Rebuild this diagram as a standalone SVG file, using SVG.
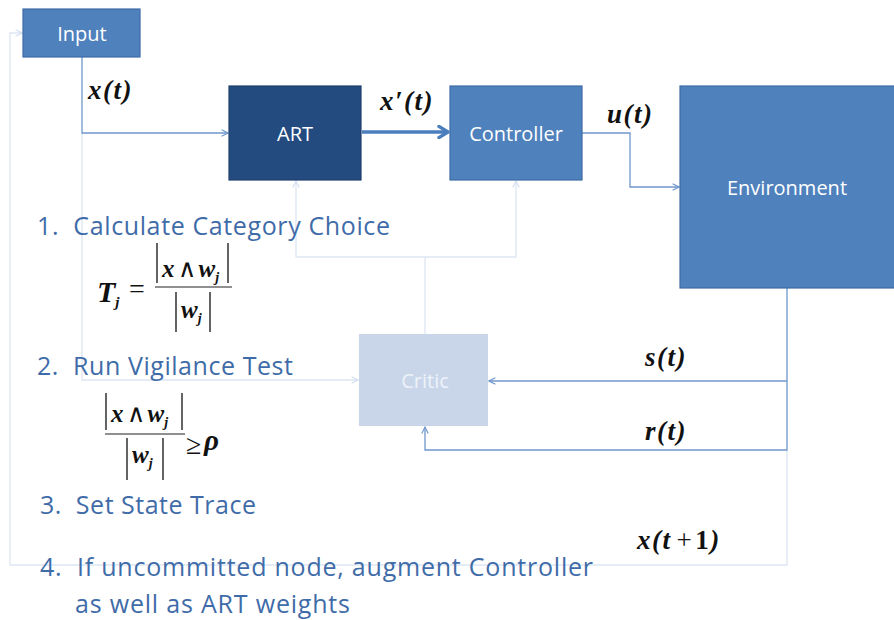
<svg xmlns="http://www.w3.org/2000/svg" width="894" height="620" viewBox="0 0 894 620">
  <style>
    .box { stroke-width: 1.2; }
    .mid { fill: #4f81bd; stroke: #3e6ca6; }
    .dark { fill: #234b80; stroke: #1e3f6d; }
    .pale { fill: #c9d6ea; stroke: none; }
    .lbl { font-family: "Open Sans", "Liberation Sans", sans-serif; font-size: 20px; fill: #ffffff; text-anchor: middle; dominant-baseline: central; }
    .lbl-pale { fill: #eef2f9; }
    .wire { fill: none; stroke: #6f97cc; stroke-width: 1.3; }
    .faint { fill: none; stroke: #dde6f2; stroke-width: 1.3; }
    .thick { fill: none; stroke: #4a7ebd; stroke-width: 3.5; }
    .math { font-family: "Liberation Serif", "Times New Roman", serif; font-weight: bold; font-style: italic; fill: #111; }
    .sig { font-size: 27px; letter-spacing: 1.5px; }
    .up { font-style: normal; }
    .op { font-style: normal; font-weight: normal; }
    .step { font-family: "Open Sans", "Noto Sans", sans-serif; font-size: 25px; fill: #3f6ca8; white-space: pre; }
    .bar { stroke: #222; stroke-width: 1.4; }
    .frac { stroke: #222; stroke-width: 1.2; }
  </style>
  <defs>
    <marker id="open" viewBox="0 0 10 10" refX="9" refY="5" markerWidth="8" markerHeight="8" markerUnits="userSpaceOnUse" orient="auto">
      <path d="M1,1 L9,5 L1,9" fill="none" stroke="#6f97cc" stroke-width="1.4"/>
    </marker>
    <marker id="openFaint" viewBox="0 0 10 10" refX="9" refY="5" markerWidth="8" markerHeight="8" markerUnits="userSpaceOnUse" orient="auto">
      <path d="M1,1 L9,5 L1,9" fill="none" stroke="#d3deee" stroke-width="1.4"/>
    </marker>
    <marker id="bold" viewBox="0 0 10 10" refX="8.5" refY="5" markerWidth="14" markerHeight="14" markerUnits="userSpaceOnUse" orient="auto">
      <path d="M2,1 L8.5,5 L2,9" fill="none" stroke="#4a7ebd" stroke-width="2.4" stroke-linecap="round" stroke-linejoin="round"/>
    </marker>
  </defs>

  <rect width="894" height="620" fill="#ffffff"/>

  <!-- connectors -->
  <g id="connectors">
    <!-- faint feedback loop back to the input -->
    <polyline class="faint" points="787,450 787,565 10,565 10,33 22,33" marker-end="url(#openFaint)"/>
    <!-- faint input branch to the critic -->
    <polyline class="faint" points="82,133 82,380 358,380" marker-end="url(#openFaint)"/>
    <!-- critic to ART and controller -->
    <polyline class="faint" points="425,334 425,257 296,257 296,181" marker-end="url(#openFaint)"/>
    <polyline class="faint" points="425,257 516,257 516,181" marker-end="url(#openFaint)"/>
    <!-- input to ART -->
    <polyline class="wire" points="82,57 82,133 228,133" marker-end="url(#open)"/>
    <!-- ART to controller -->
    <line class="thick" x1="362" y1="132" x2="448" y2="132" marker-end="url(#bold)"/>
    <!-- controller to environment -->
    <polyline class="wire" points="582,133 630,133 630,187 679,187" marker-end="url(#open)"/>
    <!-- environment to critic: state and reward -->
    <polyline class="wire" points="787,288 787,450 425,450 425,427" marker-end="url(#open)"/>
    <polyline class="wire" points="787,381 489,381" marker-end="url(#open)"/>
  </g>

  <!-- nodes -->
  <g id="input">
    <rect class="box mid" x="23" y="9" width="117" height="48"/>
    <text class="lbl" x="82" y="33">Input</text>
  </g>
  <g id="art">
    <rect class="box dark" x="229" y="86" width="132" height="94"/>
    <text class="lbl" x="295" y="133">ART</text>
  </g>
  <g id="controller">
    <rect class="box mid" x="450" y="86" width="132" height="94"/>
    <text class="lbl" x="516" y="133">Controller</text>
  </g>
  <g id="environment">
    <rect class="box mid" x="680" y="86" width="220" height="202"/>
    <text class="lbl" x="787" y="187">Environment</text>
  </g>
  <g id="critic">
    <rect class="box pale" x="359" y="334" width="129" height="92"/>
    <text class="lbl lbl-pale" x="425" y="380">Critic</text>
  </g>

  <!-- signal labels -->
  <g id="signals">
    <text class="math sig" x="88" y="99">x(t)</text>
    <text class="math sig" x="380" y="110">x′(t)</text>
    <text class="math sig" x="607" y="123">u(t)</text>
    <text class="math sig" x="645" y="366" letter-spacing="3">s(t)</text>
    <text class="math sig" x="645" y="440">r(t)</text>
    <text class="math sig" x="637" y="549">x(t<tspan class="op" dx="5">+</tspan><tspan class="up" dx="2">1</tspan>)</text>
  </g>

  <!-- algorithm steps -->
  <g id="steps">
    <text class="step" x="37" y="235" textLength="353">1.  Calculate Category Choice</text>
    <text class="step" x="37" y="375" textLength="256">2.  Run Vigilance Test</text>
    <text class="step" x="40" y="514" textLength="216">3.  Set State Trace</text>
    <text class="step" x="40" y="576" textLength="553">4.  If uncommitted node, augment Controller</text>
    <text class="step" x="75" y="613" textLength="275">as well as ART weights</text>
  </g>

  <!-- category choice formula -->
  <g id="choice-formula">
    <text class="math" x="97" y="302" font-size="30">T<tspan font-size="15" dy="5">j</tspan></text>
    <text class="math op" x="129" y="298" font-size="28">=</text>
    <line class="bar" x1="157" y1="243" x2="157" y2="283"/>
    <text class="math" x="162" y="277" font-size="25">x<tspan class="op" dx="3">∧</tspan><tspan dx="3">w</tspan><tspan font-size="14" dy="5">j</tspan></text>
    <line class="bar" x1="228" y1="243" x2="228" y2="283"/>
    <line class="frac" x1="155" y1="287" x2="232" y2="287"/>
    <line class="bar" x1="176" y1="292" x2="176" y2="332"/>
    <text class="math" x="181" y="318" font-size="25">w<tspan font-size="14" dy="5">j</tspan></text>
    <line class="bar" x1="210" y1="292" x2="210" y2="332"/>
  </g>

  <!-- vigilance formula -->
  <g id="vigilance-formula">
    <line class="bar" x1="106" y1="393" x2="106" y2="430"/>
    <text class="math" x="111" y="422" font-size="25">x<tspan class="op" dx="3">∧</tspan><tspan dx="3">w</tspan><tspan font-size="14" dy="5">j</tspan></text>
    <line class="bar" x1="182" y1="393" x2="182" y2="430"/>
    <line class="frac" x1="105" y1="434" x2="185" y2="434"/>
    <line class="bar" x1="127" y1="438" x2="127" y2="480"/>
    <text class="math" x="132" y="463" font-size="25">w<tspan font-size="14" dy="5">j</tspan></text>
    <line class="bar" x1="163" y1="438" x2="163" y2="480"/>
    <text class="math op" x="186" y="454" font-size="28">≥</text>
    <text class="math" x="204" y="450" font-size="29">ρ</text>
  </g>
</svg>
